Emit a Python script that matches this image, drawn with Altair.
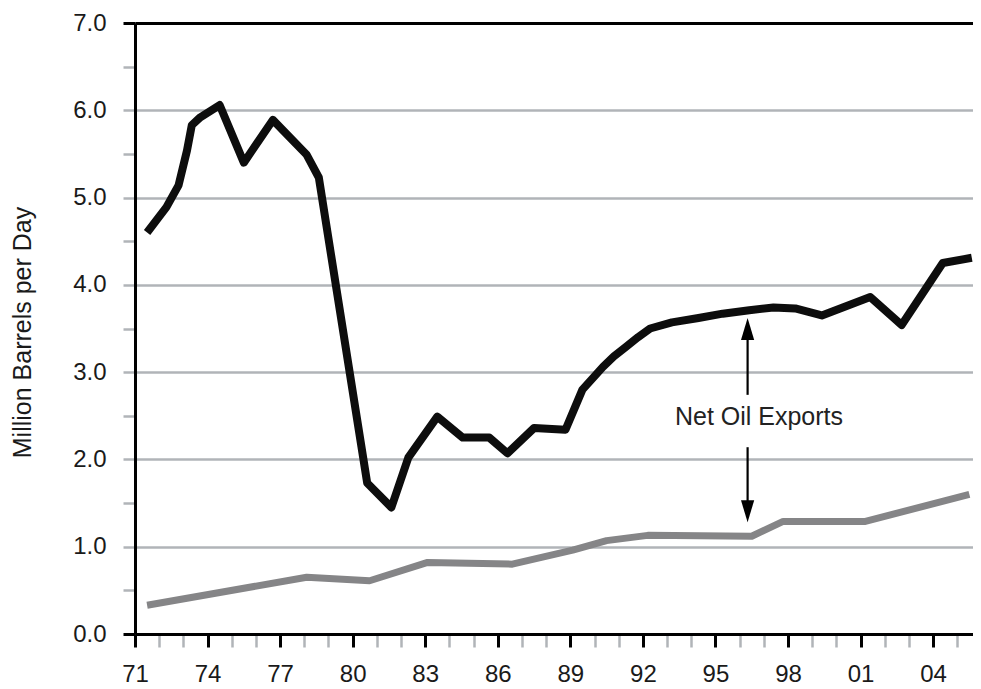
import altair as alt
import pandas as pd

# ---- data ----
oil_years = [1971.5, 1972.3, 1972.8, 1973.15, 1973.35, 1973.7, 1974.5, 1975.5, 1976.7,
             1978.1, 1978.6, 1980.6, 1981.6, 1982.3, 1983.5, 1984.55, 1985.65, 1986.4,
             1987.5, 1988.8, 1989.5, 1990.35, 1990.8, 1991.3, 1991.8, 1992.3, 1993.2,
             1994.3, 1995.3, 1996.4, 1997.4, 1998.3, 1999.4, 2001.4, 2002.7, 2004.4, 2005.6]
oil_values = [4.60, 4.89, 5.14, 5.54, 5.83, 5.92, 6.06, 5.40, 5.89,
              5.49, 5.23, 1.73, 1.45, 2.02, 2.49, 2.25, 2.25, 2.07,
              2.36, 2.34, 2.80, 3.06, 3.18, 3.29, 3.40, 3.50, 3.57,
              3.62, 3.67, 3.71, 3.74, 3.73, 3.65, 3.86, 3.54, 4.25, 4.31]

cons_years = [1971.5, 1978.1, 1980.7, 1983.1, 1986.6, 1989.1, 1990.5, 1992.2,
              1996.5, 1997.8, 2001.2, 2005.5]
cons_values = [0.33, 0.65, 0.61, 0.82, 0.80, 0.96, 1.07, 1.13,
               1.12, 1.29, 1.29, 1.60]

y_ticks = [0, 0.5, 1, 1.5, 2, 2.5, 3, 3.5, 4, 4.5, 5, 5.5, 6, 6.5, 7]
x_ticks = list(range(1971, 2006))

annot_text = ["Net Oil Exports"]
annot_x = [1996.8]
annot_y = [2.49]

arrow_x = [1996.33, 1996.33]
arrow_from = [3.40, 2.14]
arrow_to = [2.74, 1.50]
head_up_y = [3.62]
head_down_y = [1.28]

y_title = "Million Barrels per Day"

# ---- tables ----
oil_df = pd.DataFrame({"year": oil_years, "value": oil_values})
cons_df = pd.DataFrame({"year": cons_years, "value": cons_values})
annot_df = pd.DataFrame({"year": annot_x, "value": annot_y, "label": annot_text})
shaft_df = pd.DataFrame({"year": arrow_x, "value": arrow_from, "value2": arrow_to})
up_df = pd.DataFrame({"year": arrow_x[:1], "value": head_up_y})
down_df = pd.DataFrame({"year": arrow_x[:1], "value": head_down_y})

GRID = "#b1b4b8"
FONT = "Liberation Sans"

xscale = alt.Scale(domain=[1971, 2005.65], nice=False, zero=False)
yscale = alt.Scale(domain=[0, 7], nice=False, zero=False)

x_axis = alt.Axis(
    values=x_ticks,
    labelExpr="(datum.value - 1971) % 3 === 0 ? substring(toString(datum.value), 2, 4) : ''",
    grid=False,
    domain=True, domainColor="#000000", domainWidth=3,
    ticks=True, tickSize=13,
    tickColor={"condition": {"test": "(datum.value - 1971) % 3 === 0", "value": "#000000"}, "value": GRID},
    tickWidth={"condition": {"test": "(datum.value - 1971) % 3 === 0", "value": 3}, "value": 2.5},
    labelFont=FONT, labelFontSize=24, labelColor="#1a1a1a",
    labelPadding=15, labelFlush=False, labelOverlap=False, labelBound=False,
    title=None,
)

y_axis = alt.Axis(
    values=y_ticks,
    labelExpr="datum.value % 1 === 0 ? format(datum.value, '.1f') : ''",
    grid=True,
    gridColor={"condition": {"test": "datum.value === 7", "value": "#000000"}, "value": GRID},
    gridOpacity={"condition": {"test": "datum.value % 1 !== 0 || datum.value === 0", "value": 0}, "value": 1},
    gridWidth={"condition": {"test": "datum.value === 7", "value": 3}, "value": 2.5},
    domain=True, domainColor="#000000", domainWidth=3,
    ticks=True, tickSize=12,
    tickColor={"condition": {"test": "datum.value === 7 || datum.value === 0", "value": "#000000"}, "value": GRID},
    tickWidth={"condition": {"test": "datum.value === 7 || datum.value === 0", "value": 3}, "value": 2.5},
    labelFont=FONT, labelFontSize=24, labelColor="#1a1a1a",
    labelPadding=17, labelFlush=False, labelOverlap=False, labelBound=False,
    title=y_title, titleFont=FONT, titleFontSize=25, titleFontWeight="normal",
    titleColor="#1a1a1a", titleAngle=270, titleAlign="center",
    titleBaseline="alphabetic", titleX=-105, titleY=309,
)


def X():
    return alt.X("year:Q", scale=xscale, axis=x_axis)


def Y():
    return alt.Y("value:Q", scale=yscale, axis=y_axis)


oil_line = alt.Chart(oil_df).mark_line(
    color="#0d0d0d", strokeWidth=8, strokeJoin="round", strokeCap="butt"
).encode(x=X(), y=Y(), order="year:Q")

cons_line = alt.Chart(cons_df).mark_line(
    color="#858587", strokeWidth=7, strokeJoin="round", strokeCap="butt"
).encode(x=X(), y=Y(), order="year:Q")

shafts = alt.Chart(shaft_df).mark_rule(color="#000000", strokeWidth=2.2).encode(
    x=X(), y=Y(), y2="value2:Q"
)

head_up = alt.Chart(up_df).mark_point(
    shape="M0,0L0.6,2L-0.6,2Z", filled=True, color="#000000", opacity=1, size=484
).encode(x=X(), y=Y())

head_down = alt.Chart(down_df).mark_point(
    shape="M0,0L0.6,-2L-0.6,-2Z", filled=True, color="#000000", opacity=1, size=484
).encode(x=X(), y=Y())

annot = alt.Chart(annot_df).mark_text(
    font=FONT, fontSize=25, color="#222222", align="center", baseline="middle"
).encode(x=X(), y=Y(), text="label:N")

chart = alt.layer(oil_line, cons_line, shafts, head_up, head_down, annot).properties(
    width=838,
    height=611,
    autosize=alt.AutoSizeParams(type="none"),
    padding={"left": 127, "top": 15, "right": 0, "bottom": 58},
    background="#ffffff",
).configure_view(strokeWidth=0)

chart.save("out.html", embed_options={"renderer": "svg", "actions": False})
